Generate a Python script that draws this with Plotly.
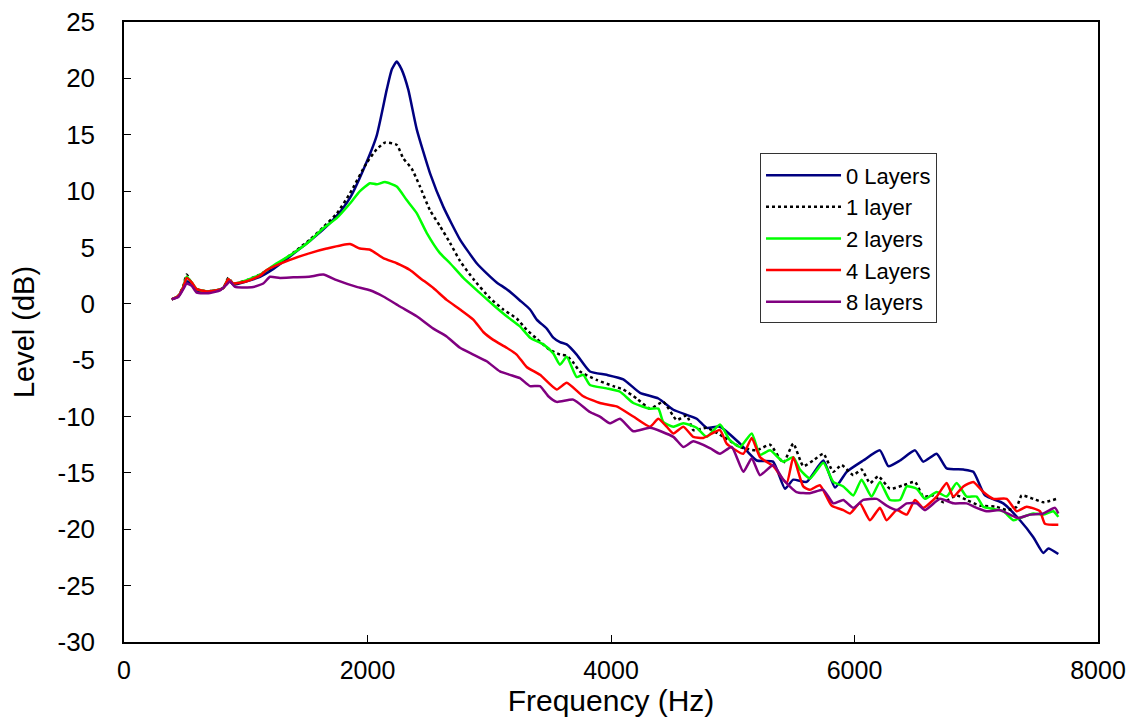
import plotly.graph_objects as go

# ---- data ----
freq_0 = [392, 446, 487, 515, 556, 597, 679, 761, 816, 857, 898, 1008, 1117, 1227, 1363, 1446, 1528, 1637, 1747,
          1856, 1966, 2075, 2158, 2200, 2240, 2280, 2335, 2404, 2513, 2623, 2760, 2897, 2979, 3061, 3143, 3252,
          3335, 3390, 3472, 3526, 3581, 3636, 3718, 3827, 3964, 4101, 4238, 4389, 4512, 4704, 4786, 4895, 5060,
          5197, 5331, 5429, 5497, 5607, 5744, 5840, 5936, 6072, 6209, 6278, 6374, 6497, 6565, 6675, 6757, 6894,
          6976, 7072, 7222, 7359, 7469, 7551, 7592, 7674]
level_0 = [0.4, 0.65, 1.4, 2.0, 1.7, 1.2, 1.1, 1.2, 1.4, 2.1, 1.7, 2.0, 2.4, 3.1, 4.2, 4.9, 5.6, 6.6, 7.8,
           9.4, 11.9, 14.9, 19.0, 20.8, 21.5, 20.8, 19.0, 15.5, 11.6, 8.6, 5.7, 3.6, 2.7, 1.9, 1.3, 0.3,
           -0.5, -1.4, -2.2, -3.0, -3.4, -3.6, -4.5, -6.0, -6.3, -6.7, -7.9, -8.4, -9.4, -10.2, -11.0, -10.9, -12.4,
           -13.9, -14.0, -16.4, -15.6, -15.8, -13.9, -16.3, -14.9, -13.9, -13.0, -14.4, -13.9, -13.0, -14.0, -13.3, -14.6, -14.7,
           -14.9, -17.0, -17.7, -19.2, -20.7, -22.1, -21.7, -22.2]

freq_1 = [392, 446, 487, 515, 556, 597, 679, 761, 816, 857, 898, 1008, 1117, 1227, 1363, 1446, 1528, 1637, 1747,
          1856, 1993, 2075, 2144, 2240, 2294, 2363, 2431, 2513, 2595, 2678, 2760, 2869, 3006, 3115, 3225, 3307,
          3390, 3499, 3581, 3636, 3690, 3745, 3882, 4019, 4101, 4211, 4320, 4430, 4539, 4622, 4676, 4786, 4923,
          5060, 5197, 5306, 5415, 5497, 5579, 5661, 5744, 5826, 5894, 5990, 6058, 6127, 6195, 6291, 6401, 6497,
          6565, 6647, 6729, 6839, 6921, 7030, 7167, 7250, 7332, 7373, 7469, 7551, 7661]
level_1 = [0.4, 0.7, 1.6, 2.6, 1.8, 1.3, 1.1, 1.2, 1.4, 2.3, 1.8, 2.1, 2.6, 3.3, 4.3, 5.0, 5.7, 6.8, 8.0,
           9.8, 12.5, 13.7, 14.3, 14.1, 12.9, 12.0, 10.4, 8.3, 6.9, 5.4, 3.8, 2.2, 0.5, -0.5, -1.3, -2.3,
           -3.1, -4.1, -4.5, -4.6, -5.2, -6.0, -6.75, -7.3, -7.6, -8.4, -9.3, -8.7, -10.3, -9.9, -11.2, -11.0, -11.8,
           -12.7, -13.0, -12.5, -14.1, -12.4, -14.4, -13.9, -13.3, -14.9, -14.3, -15.2, -14.7, -15.9, -15.3, -16.4, -16.1, -15.8,
           -17.1, -17.0, -17.6, -17.0, -17.4, -17.9, -18.0, -18.3, -18.0, -17.0, -17.3, -17.6, -17.3]

freq_2 = [392, 446, 487, 515, 556, 597, 679, 761, 816, 857, 898, 1008, 1117, 1227, 1363, 1446, 1528, 1637, 1747,
          1856, 1938, 2021, 2075, 2144, 2240, 2322, 2404, 2486, 2595, 2678, 2787, 2924, 3033, 3143, 3252, 3335,
          3444, 3526, 3581, 3636, 3718, 3772, 3827, 3964, 4074, 4183, 4320, 4389, 4430, 4512, 4594, 4704, 4786,
          4895, 4977, 5060, 5156, 5224, 5306, 5415, 5497, 5552, 5634, 5744, 5826, 5908, 5990, 6058, 6140, 6209,
          6291, 6374, 6429, 6511, 6579, 6675, 6757, 6839, 6921, 7003, 7058, 7140, 7222, 7304, 7359, 7469, 7551,
          7633, 7674]
level_2 = [0.4, 0.7, 1.5, 2.4, 1.9, 1.3, 1.1, 1.2, 1.4, 2.2, 1.8, 2.1, 2.6, 3.4, 4.3, 4.9, 5.6, 6.7, 7.6,
           8.9, 10.0, 10.7, 10.6, 10.8, 10.4, 9.2, 8.05, 6.3, 4.5, 3.6, 2.3, 0.95, -0.1, -1.1, -2.0, -3.0,
           -3.6, -4.4, -5.4, -4.7, -6.5, -6.3, -7.2, -7.5, -7.8, -8.8, -9.3, -9.3, -10.5, -10.9, -10.6, -11.0, -11.8,
           -10.7, -12.1, -12.7, -11.5, -13.4, -13.0, -14.0, -13.6, -14.7, -15.5, -14.1, -15.8, -16.2, -17.0, -15.6, -17.1, -15.8,
           -17.4, -17.4, -16.2, -16.4, -17.3, -16.7, -17.1, -15.9, -17.1, -17.1, -18.0, -18.2, -18.4, -19.2, -19.0, -18.6, -18.7,
           -18.4, -18.9]

freq_4 = [392, 446, 487, 515, 556, 597, 679, 761, 816, 857, 898, 1008, 1117, 1172, 1363, 1528, 1665, 1856,
          1938, 2021, 2130, 2240, 2349, 2431, 2541, 2650, 2760, 2869, 2951, 3033, 3143, 3225, 3307, 3417, 3554,
          3636, 3772, 3909, 4046, 4183, 4320, 4389, 4457, 4512, 4594, 4676, 4758, 4895, 4950, 5087, 5156, 5224,
          5333, 5443, 5497, 5579, 5634, 5716, 5812, 5908, 5963, 6044, 6127, 6209, 6264, 6346, 6429, 6497, 6565,
          6675, 6757, 6812, 6894, 6976, 7058, 7140, 7250, 7332, 7414, 7523, 7564, 7674]
level_4 = [0.4, 0.7, 1.5, 2.3, 1.9, 1.3, 1.1, 1.2, 1.4, 2.2, 1.8, 2.0, 2.5, 3.0, 3.9, 4.5, 4.9, 5.3,
           4.9, 4.8, 4.05, 3.6, 3.0, 2.3, 1.4, 0.35, -0.5, -1.4, -2.5, -3.2, -3.9, -4.5, -5.6, -6.3, -7.6,
           -7.0, -8.2, -8.8, -9.1, -10.0, -10.9, -10.2, -10.9, -11.5, -10.9, -11.8, -11.9, -11.2, -12.4, -13.3, -11.9, -13.6,
           -14.4, -15.9, -13.6, -16.2, -16.5, -16.1, -17.9, -18.3, -18.6, -17.7, -19.2, -18.1, -19.2, -18.3, -18.7, -17.4, -18.1,
           -17.1, -15.9, -17.1, -16.2, -15.8, -16.7, -17.3, -17.3, -18.4, -18.0, -18.4, -19.5, -19.6]

freq_8 = [392, 446, 487, 515, 556, 597, 706, 789, 843, 870, 912, 1062, 1144, 1199, 1281, 1391, 1520, 1637,
          1747, 1911, 2020, 2130, 2267, 2404, 2541, 2650, 2760, 2869, 2979, 3088, 3170, 3252, 3335, 3417, 3485,
          3554, 3690, 3827, 3909, 3991, 4074, 4183, 4320, 4512, 4594, 4676, 4813, 4895, 4991, 5087, 5156, 5224,
          5333, 5415, 5524, 5634, 5744, 5826, 5908, 5990, 6072, 6182, 6264, 6346, 6429, 6511, 6579, 6702, 6812,
          6921, 7003, 7085, 7195, 7277, 7346, 7441, 7551, 7647, 7674]
level_8 = [0.4, 0.6, 1.3, 1.8, 1.6, 1.0, 0.95, 1.2, 1.7, 2.0, 1.5, 1.5, 1.8, 2.4, 2.3, 2.35, 2.4, 2.6,
           2.1, 1.5, 1.2, 0.65, -0.24, -1.1, -2.2, -2.9, -3.9, -4.5, -5.1, -6.0, -6.3, -6.6, -7.3, -7.3, -8.2,
           -8.7, -8.5, -9.6, -10.0, -10.6, -10.2, -11.3, -11.0, -11.8, -12.7, -12.2, -12.8, -13.3, -12.7, -14.9, -13.7, -15.2,
           -14.3, -15.6, -16.7, -16.8, -16.5, -17.7, -17.4, -18.1, -17.4, -17.3, -17.9, -18.3, -17.7, -17.7, -18.3, -17.3, -17.7,
           -17.7, -18.1, -18.4, -18.3, -18.7, -19.0, -18.7, -18.6, -18.1, -18.6]

series_names = ["0 Layers", "1 layer", "2 layers", "4 Layers", "8 layers"]
x_ticks = [0, 2000, 4000, 6000, 8000]
y_ticks = [25, 20, 15, 10, 5, 0, -5, -10, -15, -20, -25, -30]

# ---- styling ----
styles = [
    dict(color="#000080", dash="solid"),
    dict(color="#000000", dash="dot"),
    dict(color="#00FF00", dash="solid"),
    dict(color="#FF0000", dash="solid"),
    dict(color="#800080", dash="solid"),
]
data = [(freq_0, level_0), (freq_1, level_1), (freq_2, level_2), (freq_4, level_4), (freq_8, level_8)]

fig = go.Figure()
for name, (fx, ly), st in zip(series_names, data, styles):
    fig.add_trace(go.Scatter(
        x=fx, y=ly, mode="lines", name=name,
        line=dict(color=st["color"], dash=st["dash"], width=2.5, shape="spline", smoothing=0.5),
    ))

font_family = "Liberation Sans, Arial, sans-serif"
fig.update_layout(
    width=1137, height=720,
    margin=dict(l=124, r=39, t=22, b=78, autoexpand=False),
    paper_bgcolor="white", plot_bgcolor="white",
    font=dict(family=font_family, color="black", size=26),
    showlegend=True,
    legend=dict(
        x=0.653, y=0.788, xanchor="left", yanchor="top",
        bgcolor="white", bordercolor="#333333", borderwidth=1,
        font=dict(size=22, color="black", family=font_family),
        itemwidth=75, tracegroupgap=0,
    ),
)
fig.update_xaxes(
    range=[0, 8000], tickvals=x_ticks, ticktext=[str(v) for v in x_ticks],
    ticks="inside", ticklen=7, tickcolor="black", tickwidth=1,
    showline=True, linecolor="black", linewidth=1.5, mirror=True,
    showgrid=False, zeroline=False, automargin=False,
    tickfont=dict(size=25), ticklabelstandoff=5,
    title=dict(text="Frequency (Hz)", font=dict(size=30), standoff=4),
)
fig.update_yaxes(
    range=[-30, 25], tickvals=y_ticks, ticktext=[str(v) for v in y_ticks],
    ticks="inside", ticklen=7, tickcolor="black", tickwidth=1,
    showline=True, linecolor="black", linewidth=1.5, mirror=True,
    showgrid=False, zeroline=False, automargin=False,
    tickfont=dict(size=26), ticklabelstandoff=22,
    title=dict(text="Level (dB)", font=dict(size=29), standoff=14),
)

fig.write_html(
    "out.html",
    config={"displayModeBar": False},
    post_script="document.body.style.margin='0';document.body.style.overflow='hidden';",
)
